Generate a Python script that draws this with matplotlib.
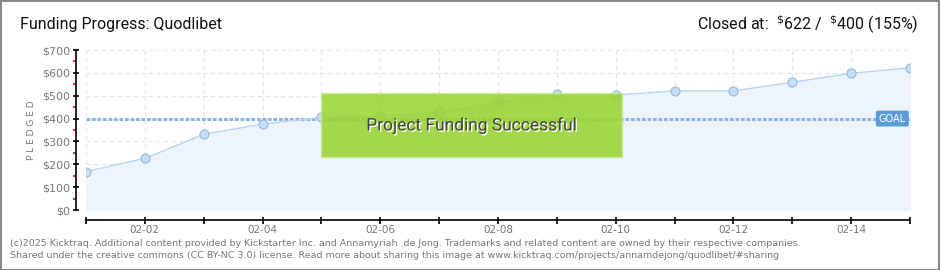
import matplotlib
matplotlib.use("Agg")
import matplotlib.pyplot as plt
from matplotlib.patches import Rectangle
import matplotlib.patheffects as pe
from matplotlib.ticker import MultipleLocator, FixedLocator, FixedFormatter

plt.rcParams['font.family'] = ['DejaVu Sans']

dates = ['02-01', '02-02', '02-03', '02-04', '02-05', '02-06', '02-07', '02-08',
         '02-09', '02-10', '02-11', '02-12', '02-13', '02-14', '02-15']
pledged = [168, 226, 331, 376, 405, 412, 427, 471, 507, 503, 521, 521, 559, 598, 622]
goal = 400
title = "Funding Progress: Quodlibet"
footer1 = ("(c)2025 Kicktraq. Additional content provided by Kickstarter Inc. and Annamyriah  de Jong. "
           "Trademarks and related content are owned by their respective companies.")
footer2 = ("Shared under the creative commons (CC BY-NC 3.0) license. Read more about sharing this image at "
           "www.kicktraq.com/projects/annamdejong/quodlibet/#sharing")

W, H = 940, 270
PX = 72 / 100  # points per pixel
fig = plt.figure(figsize=(W / 100, H / 100), dpi=100)
fig.patch.set_facecolor('white')

# frame around the image
fig.add_artist(Rectangle((0.5 / W, 0.5 / H), 1 - 1.5 / W, 1 - 1.5 / H, transform=fig.transFigure,
                         fill=False, edgecolor='#888888', linewidth=1.5))

x0, x1 = 86, 910
ytop, ybot = 50, 210
ax = fig.add_axes([x0 / W, 1 - ybot / H, (x1 - x0) / W, (ybot - ytop) / H])
ax.set_facecolor('white')
xs = list(range(len(dates)))
ax.set_xlim(0, len(dates) - 1)
ax.set_ylim(0, 700)

ax.fill_between(xs, pledged, 0, color='#edf4fc', zorder=1)
ax.plot(xs, pledged, color='#b9d5f2', linewidth=1, zorder=3)
ax.plot(xs, pledged, 'o', markersize=6.5, markerfacecolor='#c6ddf6', markeredgecolor='#94b8e0',
        markeredgewidth=0.8, zorder=4)

ax.axhline(goal, color='#8db4e0', linewidth=2.2, linestyle=(0, (1.2, 0.6)), zorder=2)

ax.grid(True, color='#e2e2e2', linestyle=(0, (4, 3)), linewidth=0.8, zorder=0)
ax.set_axisbelow(True)

for s in ['top', 'right']:
    ax.spines[s].set_visible(False)
ax.spines['left'].set_position(('outward', 10 * PX))
ax.spines['bottom'].set_position(('outward', 10 * PX))
ax.spines['left'].set_linewidth(1.2)
ax.spines['bottom'].set_linewidth(1.2)

ax.set_yticks(range(0, 701, 100))
ax.set_yticklabels(['$%d' % v for v in range(0, 701, 100)])
ax.yaxis.set_minor_locator(MultipleLocator(50))
ax.tick_params(axis='y', which='major', direction='inout', length=6 * PX, width=1.2,
               labelsize=8, labelcolor='#777777', pad=2)
ax.tick_params(axis='y', which='minor', direction='out', length=3 * PX, width=1.2, color='red')

ax.xaxis.set_major_locator(FixedLocator(xs))
ax.xaxis.set_major_formatter(FixedFormatter([d if i % 2 == 1 else '' for i, d in enumerate(dates)]))
ax.tick_params(axis='x', which='major', direction='inout', length=7 * PX, width=1.2,
               labelsize=7.5, labelcolor='#777777', pad=1)

fig.text(32 / W, 1 - 130 / H, 'P L E D G E D', fontsize=6.5, color='#777777',
         rotation=90, ha='center', va='center')

# success banner
ax.add_patch(Rectangle((4, 230), 5.1, 280, facecolor='#98d42c', edgecolor='#c8ec90',
                       alpha=0.85, linewidth=1, zorder=5))
ax.text(6.55, 370, 'Project Funding Successful', ha='center', va='center', fontsize=12.5,
        color='#444444', zorder=6, family='Roboto',
        path_effects=[pe.withSimplePatchShadow(offset=(1, -1), shadow_rgbFace='white', alpha=1)])

# goal tag
ax.text(13.7, goal, 'GOAL', ha='center', va='center', fontsize=7, color='white', zorder=6,
        bbox=dict(boxstyle='round,pad=0.3,rounding_size=0.2', facecolor='#5b9bd8', edgecolor='none'))

fig.text(20 / W, 1 - 25 / H, title, fontsize=11.5, color='#111111', va='center', ha='left',
         family='Roboto')
fig.text(918 / W, 1 - 25 / H, 'Closed at:  $^{\\$}$622 /  $^{\\$}$400 (155%)',
         fontsize=11.5, color='#111111', va='center', ha='right', family='Roboto')

fig.text(10 / W, 1 - 243 / H, footer1, fontsize=6.8, color='#777777', va='center', ha='left')
fig.text(10 / W, 1 - 256 / H, footer2, fontsize=6.8, color='#777777', va='center', ha='left')

fig.savefig('out.png', dpi=100)
